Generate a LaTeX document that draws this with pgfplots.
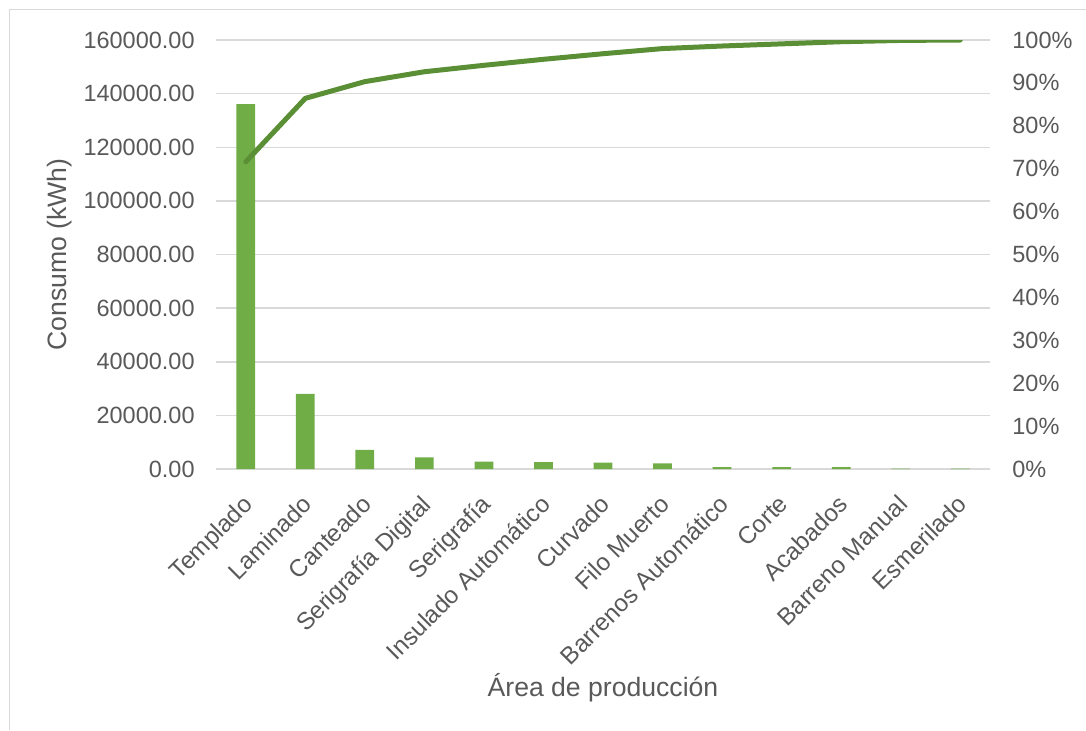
\documentclass[border=0pt]{standalone}
\usepackage{pgfplots}
\pgfplotsset{compat=1.18}
\usepackage{fontspec}
\setmainfont{Liberation Sans}
\definecolor{bargreen}{HTML}{70AD47}
\definecolor{linegreen}{HTML}{5A8F36}
\definecolor{gridgray}{HTML}{D9D9D9}
\definecolor{txt}{HTML}{595959}
\begin{document}
\begin{tikzpicture}
\pgfplotsset{
 base/.style={scale only axis, width=387pt, height=214.5pt, at={(0,0)}, anchor=south west,
   xmin=-0.5, xmax=12.5, ymin=0, major tick length=0pt,
   axis line style={draw=none},
   tick label style={font=\fontsize{11.75}{14}\selectfont, text=txt},
   label style={font=\fontsize{13.3}{16}\selectfont, text=txt},
   /pgf/number format/assume math mode=true}
}
\begin{axis}[base,
  ymax=160000, ytick={0,20000,...,160000},
  ymajorgrids, grid style={gridgray, line width=0.75pt},
  yticklabel style={anchor=east, inner sep=0pt, xshift=-10.5pt,
    /pgf/number format/.cd, fixed, fixed zerofill, precision=2, 1000 sep={}},
  scaled y ticks=false,
  xtick={0,...,12},
  xticklabels={Templado,Laminado,Canteado,Serigrafía Digital,Serigrafía,Insulado Automático,Curvado,Filo Muerto,Barrenos Automático,Corte,Acabados,Barreno Manual,Esmerilado},
  xticklabel style={font=\fontsize{12.1}{14}\selectfont, rotate=45, anchor=north east, inner sep=0pt, yshift=-7pt, xshift=-10pt},
  ylabel={Consumo (kWh)},
  ylabel style={at={(axis description cs:-0.2016,0.5)}, anchor=center},
  xlabel={Área de producción},
  xlabel style={at={(axis description cs:0.5,-0.5105)}, anchor=center},
]
\addplot[ybar, bar width=9.35pt, fill=bargreen, draw=none] table {
x y
0 136100
1 28000
2 7100
3 4330
4 2720
5 2610
6 2360
7 2110
8 750
9 750
10 750
11 150
12 100
};
\end{axis}
\begin{axis}[base,
  ymax=100, ytick={0,10,...,100},
  axis y line*=right, hide x axis,
  yticklabel={\pgfmathprintnumber{\tick}\%},
  yticklabel style={anchor=west, inner sep=0pt, xshift=11pt},
]
\addplot[linegreen, line width=2.5pt, line cap=round, line join=round] table {
x y
0 71.6
1 86.4
2 90.3
3 92.6
4 94.1
5 95.5
6 96.8
7 98.0
8 98.6
9 99.1
10 99.6
11 99.9
12 100
};
\end{axis}
\pgfresetboundingbox
\path[use as bounding box] (-108pt,-130.5pt) rectangle (435pt,234.5pt);
\draw[gridgray, line width=0.75pt] (-103.25pt,-130.5pt) -- (-103.25pt,229.75pt) -- (435pt,229.75pt);
\end{tikzpicture}
\end{document}
